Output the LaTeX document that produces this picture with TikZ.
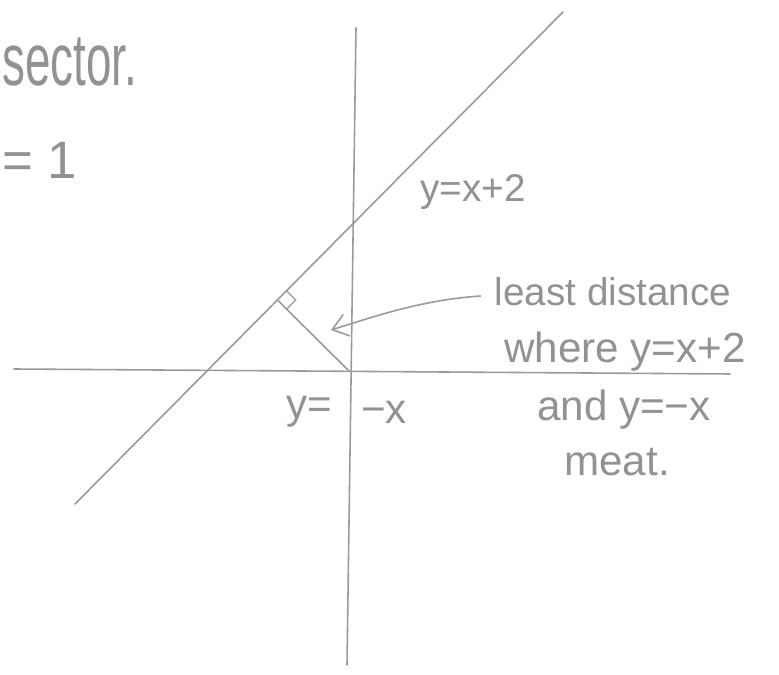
\documentclass[tikz,border=0pt]{standalone}
\usepackage{fontspec}
\setmainfont{Liberation Sans}
\usetikzlibrary{calc,arrows.meta}
\definecolor{pencil}{HTML}{9A9A9A}
\definecolor{pentext}{HTML}{929292}
\begin{document}
\begin{tikzpicture}[x=0.02cm,y=-0.02cm, line cap=round,
  axis/.style={draw=pencil, line width=0.9pt},
  hand/.style={text=pentext, inner sep=0pt, font=\fontsize{22}{26}\selectfont},
  bighand/.style={hand, font=\fontsize{24}{28}\selectfont}]
\useasboundingbox (0,0) rectangle (779,675);
\fill[white] (0,0) rectangle (779,675);
% axes and lines
\coordinate (vt) at (356,28);
\coordinate (vb) at (347,665);
\coordinate (hl) at (14,369);
\coordinate (hr) at (730,374);
\coordinate (lb) at (75,504);
\coordinate (lt) at (563,12);
\coordinate (O) at (349,371);
\draw[axis] (vt) -- (vb);
\draw[axis] (hl) -- (hr);
\draw[axis] (lb) -- (lt);
% perpendicular
\coordinate (F) at ($(lb)!(O)!(lt)$);
\draw[axis] (F) -- (O);
\coordinate (A) at ($(F)!0.26cm!(lt)$);
\coordinate (C) at ($(F)!0.26cm!(O)$);
\draw[axis, line width=0.7pt] (A) -- ($(A)+(C)-(F)$) -- (C);
% labels
\node[hand] (l1) at (473,192) {y=x+2};
\node[hand] (ld) at (613,292) {least distance};
\node[bighand] (lw) at (625,352) {where y=x+2};
\node[bighand] (la) at (624,410) {and y=−x};
\node[bighand] (lm) at (617,462) {meat.};
\node[bighand] (ly) at (309,412) {y=};
\node[bighand] (lx) at (384,412) {−x};
\node[hand, font=\fontsize{42}{46}\selectfont, anchor=west] (ls) at (2,62) {\scalebox{0.62}[1]{sector.}};
\node[hand, font=\fontsize{30}{34}\selectfont, anchor=west] (le) at (2,160) {= 1};
% arrow
\coordinate (as) at ($(ld.west)+(-14,4)$);
\coordinate (tip) at (331,330);
\draw[axis, -{Straight Barb[length=3mm,width=4.5mm]}] (as) .. controls (420,300) and (370,318) .. (tip);
\end{tikzpicture}
\end{document}
